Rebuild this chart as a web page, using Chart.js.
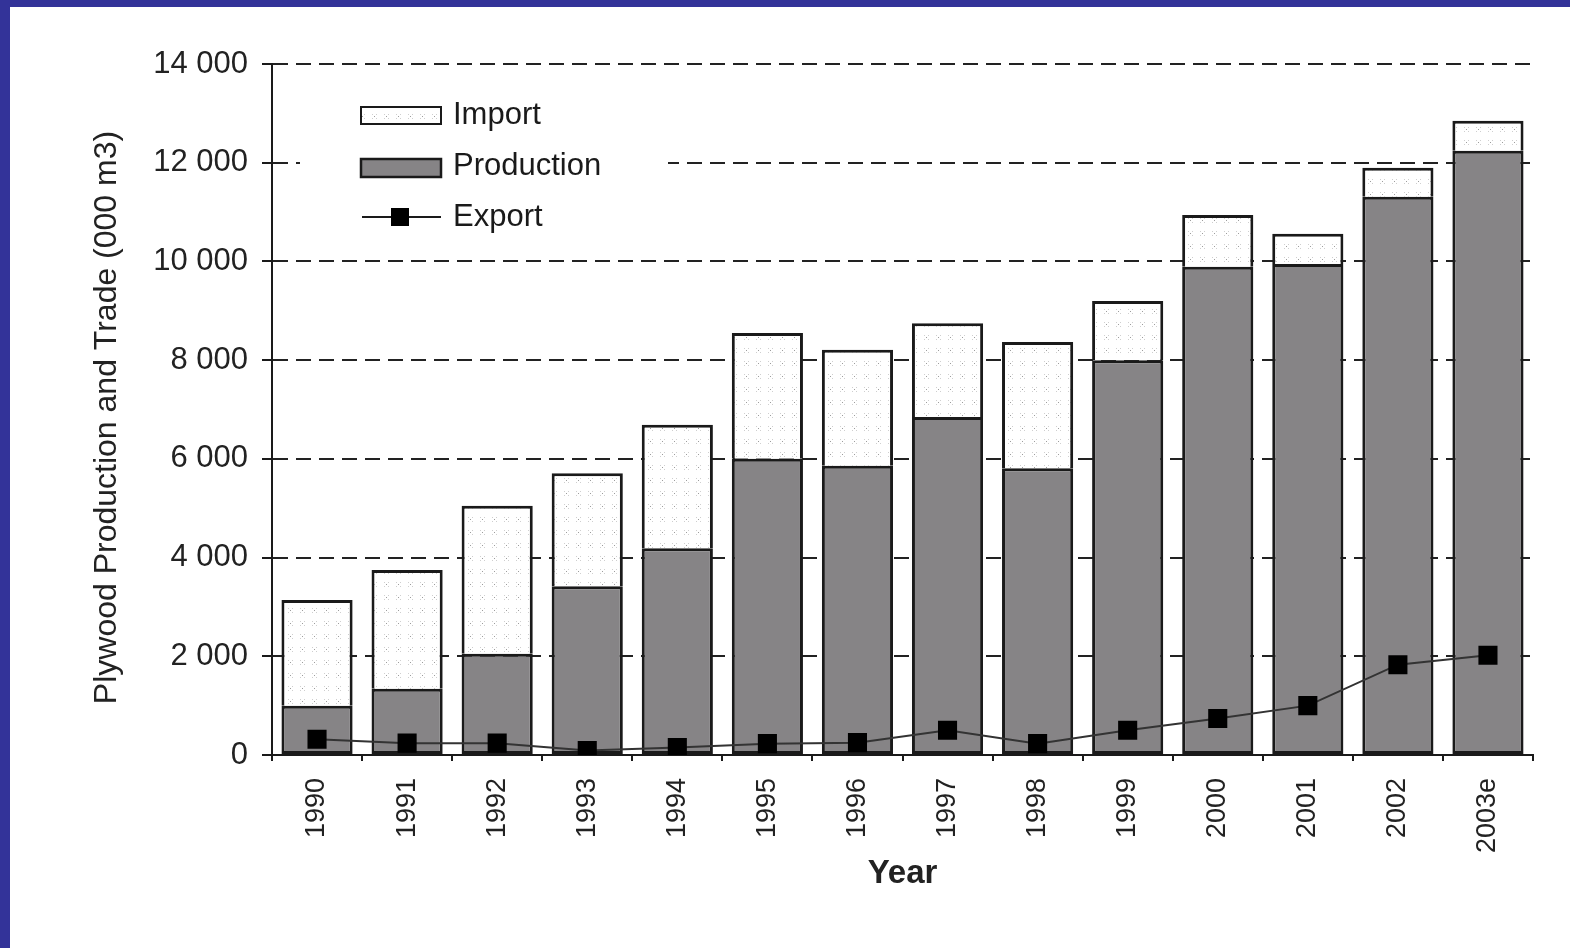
<!DOCTYPE html>
<html>
<head>
<meta charset="utf-8">
<title>Plywood Production and Trade</title>
<script src="https://cdn.jsdelivr.net/npm/chart.js@4/dist/chart.umd.min.js"></script>
<style>
  html, body { margin: 0; padding: 0; background: #ffffff; }
  #frame {
    position: absolute; left: 0; top: 0;
    width: 1560px; height: 941px;
    border-left: 10px solid #333399;
    border-top: 7px solid #333399;
    background: #ffffff;
  }
  #wrap { position: absolute; left: 0; top: 0; width: 1560px; height: 941px; }
</style>
</head>
<body>
<div id="frame"><div id="wrap"><canvas id="chart" width="1560" height="941"></canvas></div></div>
<script>
// Plywood production and trade, thousand m3
const years = ['1990', '1991', '1992', '1993', '1994', '1995', '1996', '1997', '1998', '1999', '2000', '2001', '2002', '2003e'];
const production = [1000, 1340, 2050, 3420, 4190, 6000, 5860, 6850, 5810, 8000, 9890, 9950, 11310, 12240];
const imports = [2140, 2410, 3000, 2290, 2500, 2550, 2350, 1900, 2560, 1200, 1050, 610, 590, 610];
const exports = [320, 240, 240, 90, 150, 230, 250, 500, 230, 500, 740, 1000, 1830, 2020];
const yTickLabels = ['0', '2 000', '4 000', '6 000', '8 000', '10 000', '12 000', '14 000'];
const yTitle = 'Plywood Production and Trade (000 m3)';

const FONT = '"Liberation Sans", Arial, Helvetica, sans-serif';
const INK = '#1a1a1a';
const PROD_FILL = '#868486';

// light stippled fill for the import segment
function stipple() {
  const c = document.createElement('canvas');
  c.width = 12; c.height = 13;
  const g = c.getContext('2d');
  g.fillStyle = '#ffffff';
  g.fillRect(0, 0, 12, 13);
  g.fillStyle = '#cfcfcf';
  [[2, 3], [6, 3], [2, 7], [6, 7]].forEach(([x, y]) => g.fillRect(x, y, 1, 1));
  g.fillStyle = '#9c9c9c';
  g.fillRect(4, 5, 1, 1);
  return g.createPattern(c, 'repeat');
}
const IMPORT_FILL = stipple();

// vertical axis title, centred slightly below the plot middle
const yAxisTitle = {
  id: 'yAxisTitle',
  afterDraw(chart) {
    const ctx = chart.ctx;
    const a = chart.chartArea;
    ctx.save();
    ctx.translate(97, (a.top + a.bottom) / 2 + 8);
    ctx.rotate(-Math.PI / 2);
    ctx.font = '32px ' + FONT;
    ctx.fillStyle = '#222';
    ctx.textAlign = 'center';
    ctx.textBaseline = 'middle';
    ctx.fillText(yTitle, 0, 0);
    ctx.restore();
  }
};

// legend drawn in a white box over the grid, top-left of the plot
const boxLegend = {
  id: 'boxLegend',
  afterDraw(chart) {
    const ctx = chart.ctx;
    const ds = chart.data.datasets;
    ctx.save();
    ctx.fillStyle = '#ffffff';
    ctx.fillRect(290, 80, 368, 156);

    const swX = 351, swW = 80, txtX = 443;
    ctx.font = '31px ' + FONT;
    ctx.textBaseline = 'middle';
    ctx.textAlign = 'left';

    // Import
    ctx.fillStyle = IMPORT_FILL;
    ctx.fillRect(swX, 100, swW, 17);
    ctx.lineWidth = 2; ctx.strokeStyle = INK;
    ctx.strokeRect(swX, 100, swW, 17);
    ctx.fillStyle = INK;
    ctx.fillText(ds[1].label, txtX, 108);

    // Production
    ctx.fillStyle = PROD_FILL;
    ctx.fillRect(swX, 152, swW, 18);
    ctx.lineWidth = 2.5; ctx.strokeStyle = INK;
    ctx.strokeRect(swX, 152, swW, 18);
    ctx.fillStyle = INK;
    ctx.fillText(ds[0].label, txtX, 159);

    // Export
    ctx.strokeStyle = INK; ctx.lineWidth = 2;
    ctx.beginPath(); ctx.moveTo(352, 210); ctx.lineTo(431, 210); ctx.stroke();
    ctx.fillStyle = '#000000';
    ctx.fillRect(381, 201, 18, 18);
    ctx.fillStyle = INK;
    ctx.fillText(ds[2].label, txtX, 210);
    ctx.restore();
  }
};

new Chart(document.getElementById('chart'), {
  data: {
    labels: years,
    datasets: [
      {
        type: 'bar', label: 'Production', data: production, stack: 'supply',
        backgroundColor: PROD_FILL, borderColor: INK, borderWidth: 3, borderSkipped: false,
        barPercentage: 0.79, categoryPercentage: 1, order: 2
      },
      {
        type: 'bar', label: 'Import', data: imports, stack: 'supply',
        backgroundColor: IMPORT_FILL, borderColor: INK, borderWidth: 3, borderSkipped: 'bottom',
        barPercentage: 0.79, categoryPercentage: 1, order: 2
      },
      {
        type: 'line', label: 'Export', data: exports, stack: 'export',
        borderColor: '#333333', borderWidth: 2, tension: 0,
        pointStyle: 'rect', pointRadius: 13.5, pointBackgroundColor: '#000000',
        pointBorderColor: '#000000', pointBorderWidth: 0, order: 0
      }
    ]
  },
  options: {
    responsive: false,
    animation: false,
    events: [],
    layout: { padding: { left: 0, top: 57, right: 37, bottom: 0 } },
    plugins: { legend: { display: false }, tooltip: { enabled: false } },
    scales: {
      x: {
        stacked: true,
        offset: true,
        grid: { offset: true, drawOnChartArea: false, drawTicks: true, tickLength: 6, color: INK, lineWidth: 2, tickBorderDash: [] },
        border: { display: true, color: INK, width: 2 },
        ticks: { color: '#222', font: { family: FONT, size: 27 }, minRotation: 90, maxRotation: 90, padding: 17, autoSkip: false },
        title: { display: true, text: 'Year', color: '#222', font: { family: FONT, size: 33, weight: 'bold', lineHeight: 1.2 }, padding: { top: 0, bottom: 54 } },
        afterFit(s) { s.height = 193; }
      },
      y: {
        stacked: true,
        min: 0, max: 14000,
        grid: { color: '#222', lineWidth: 2, drawTicks: true, tickLength: 10, tickColor: INK, tickWidth: 2, tickBorderDash: [] },
        border: { display: true, color: INK, width: 2, dash: [15, 8] },
        ticks: {
          stepSize: 2000, color: '#222', padding: 14,
          font: { family: FONT, size: 31 },
          callback: (v, i) => yTickLabels[i]
        },
        afterFit(s) { s.width = 262; }
      }
    }
  },
  plugins: [yAxisTitle, boxLegend]
});
</script>
</body>
</html>
